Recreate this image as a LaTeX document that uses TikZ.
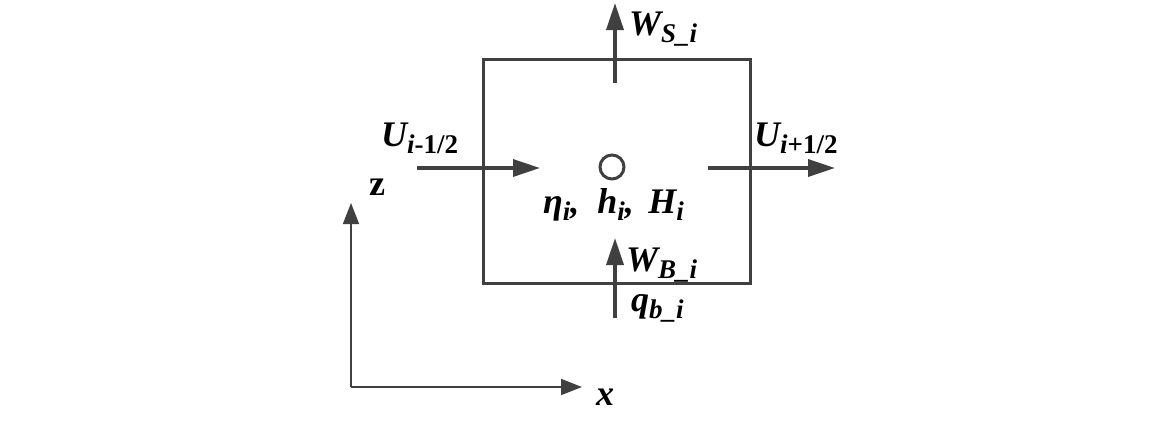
\documentclass[tikz,border=0pt]{standalone}
\usepackage{fontspec}
\setmainfont{Liberation Serif}
\usetikzlibrary{arrows.meta}
\definecolor{linegray}{RGB}{64,64,64}
\newcommand{\sub}[1]{\raisebox{-7pt}{\fontsize{27}{32}\selectfont #1}}

\begin{document}
\begin{tikzpicture}[x=1pt, y=-1pt,
  flux/.style={line width=3.5pt, draw=linegray, -{Triangle[length=27pt, width=17pt]}},
  axis/.style={line width=1.6pt, draw=linegray, -{Triangle[length=21pt, width=16pt]}},
  lbl/.style={anchor=base west, inner sep=0pt, text=black,
    font=\fontsize{36}{42}\selectfont\bfseries\itshape}]
  \useasboundingbox (0,0) rectangle (1172,421);

  % Control volume
  \draw[line width=3pt, draw=linegray] (483,59) rectangle (750,283);
  \node[draw=linegray, line width=3pt, circle, minimum size=24pt, inner sep=0pt] (cell) at (612,167) {};

  % Fluxes
  \coordinate (topin) at (615,83);   \coordinate (topout) at (615,3);
  \coordinate (leftin) at (417,168); \coordinate (leftout) at (540,168);
  \coordinate (rightin) at (708,168); \coordinate (rightout) at (835,168);
  \coordinate (botin) at (615,318);  \coordinate (botout) at (615,238);
  \draw[flux] (topin) -- (topout);
  \draw[flux] (leftin) -- (leftout);
  \draw[flux] (rightin) -- (rightout);
  \draw[flux] (botin) -- (botout);

  % Labels
  \node[lbl] (ws) at (629,35) {W\sub{S\_i}};
  \node[lbl] (ul) at (381,146) {U\sub{i\upshape -1/2}};
  \node[lbl] (ur) at (754,146) {U\sub{i\upshape +1/2}};
  \node[lbl] (state) at (543,213) {η\sub{i},\hspace{0.5em}h\sub{i},\hspace{0.4em}H\sub{i}};
  \node[lbl] (wb) at (626,271) {W\sub{B\_i}};
  \node[lbl] (qb) at (631,311) {q\sub{b\_i}};

  % Axes
  \coordinate (origin) at (351,387);
  \coordinate (zend) at (351,203);
  \coordinate (xend) at (582,387);
  \draw[axis] (origin) -- (zend);
  \draw[axis] (origin) -- (xend);
  \node[lbl, font=\fontsize{36}{42}\selectfont\bfseries] (zlbl) at (369,195) {z};
  \node[lbl] (xlbl) at (596,405) {x};
\end{tikzpicture}
\end{document}
